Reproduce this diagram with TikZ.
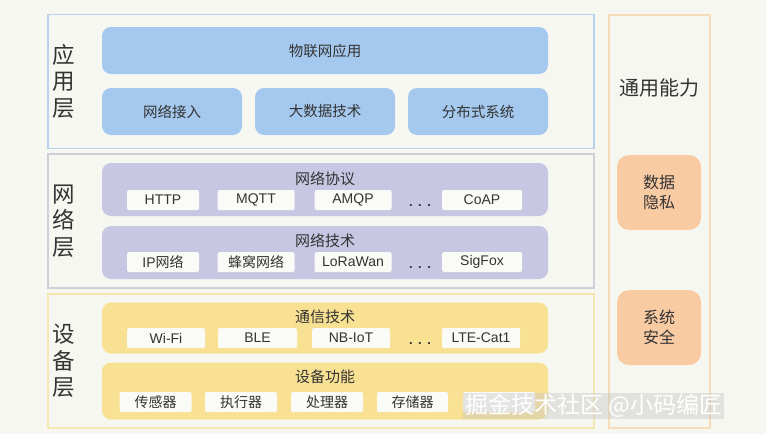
\documentclass[tikz,border=0pt]{standalone}
\usepackage{fontspec}
\setmainfont{Liberation Sans}
\newfontfamily\cjk{Noto Sans CJK SC}
\definecolor{bg}{HTML}{F7F7F2}
\definecolor{txt}{HTML}{333333}
\definecolor{appline}{HTML}{B7D2EC}
\definecolor{appfill}{HTML}{A5C9EE}
\definecolor{netline}{HTML}{CFCFDA}
\definecolor{netfill}{HTML}{C7C7E4}
\definecolor{devline}{HTML}{F6E6B2}
\definecolor{devfill}{HTML}{F9E193}
\definecolor{capline}{HTML}{F6DDB8}
\definecolor{capfill}{HTML}{F9CBA3}
\definecolor{subfill}{HTML}{FAFAF7}
\begin{document}
\begin{tikzpicture}[x=1pt,y=-1pt,
  every node/.style={inner sep=0pt, text=txt},
  layerbox/.style={draw=#1, line width=1.3pt, fill=bg, minimum width=546pt, minimum height=134pt},
  layerlabel/.style={font=\cjk\fontsize{22.5}{26.5}\selectfont, align=center},
  bigbox/.style={fill=#1, rounded corners=9pt, minimum width=446pt},
  midbox/.style={fill=appfill, rounded corners=9pt, minimum width=140pt, minimum height=47pt, font=\cjk\fontsize{14.5}{17}\selectfont},
  boxtitle/.style={font=\cjk\fontsize{15}{18}\selectfont},
  subbox/.style={fill=subfill, rounded corners=1.5pt, minimum height=20pt, minimum width=#1, font=\fontsize{14}{16}\selectfont},
  subbox/.default=77pt,
  dots/.style={font=\bfseries\fontsize{13}{13}\selectfont},
  capbox/.style={fill=capfill, rounded corners=12pt, minimum width=84pt, minimum height=75pt, font=\cjk\fontsize{16}{20}\selectfont, align=center}
]
\useasboundingbox[fill=bg] (0,0) rectangle (766,434);

% ---------- application layer ----------
\node[layerbox=appline] (app) at (321,81.5) {};
\node[layerlabel] (applbl) at (64,81) {应\\用\\层};
\node[bigbox=appfill, minimum height=47pt, font=\cjk\fontsize{14.5}{17}\selectfont] (iot) at (325,50.5) {物联网应用};
\node[midbox] (acc) at (172,111.5) {网络接入};
\node[midbox] (bigdata) at (325,111.5) {大数据技术};
\node[midbox] (dist) at (478,111.5) {分布式系统};

% ---------- network layer ----------
\node[layerbox=netline] (net) at (321,221) {};
\node[layerlabel] (netlbl) at (64,221) {网\\络\\层};
\node[bigbox=netfill, minimum height=53pt] (proto) at (325,189.5) {};
\node[boxtitle] (protot) at (325,179) {网络协议};
\node[subbox=72pt] (http) at (163,200) {HTTP};
\node[subbox] (mqtt) at (256,200) {MQTT};
\node[subbox] (amqp) at (353,200) {AMQP};
\node[dots] (pdots) at (420,206) {.\hspace{5.5pt}.\hspace{5.5pt}.};
\node[subbox=80pt] (coap) at (482,200) {CoAP};

\node[bigbox=netfill, minimum height=53pt] (ntech) at (325,252.5) {};
\node[boxtitle] (ntecht) at (325,241) {网络技术};
\node[subbox=72pt] (ipnet) at (163,262) {IP{\cjk 网络}};
\node[subbox, font=\cjk\fontsize{14}{16}\selectfont] (cell) at (256,262) {蜂窝网络};
\node[subbox] (lora) at (353,262) {LoRaWan};
\node[dots] (ndots) at (420,268) {.\hspace{5.5pt}.\hspace{5.5pt}.};
\node[subbox=80pt] (sigfox) at (482,262) {SigFox};

% ---------- device layer ----------
\node[layerbox=devline] (dev) at (321,361) {};
\node[layerlabel] (devlbl) at (64,361) {设\\备\\层};
\node[bigbox=devfill, minimum height=51pt] (comm) at (325,328) {};
\node[boxtitle] (commt) at (325,317) {通信技术};
\node[subbox=78pt] (wifi) at (166,338) {Wi{-}Fi};
\node[subbox=79pt] (ble) at (257.5,338) {BLE};
\node[subbox=78pt] (nbiot) at (351,338) {NB{-}IoT};
\node[dots] (cdots) at (420,344) {.\hspace{5.5pt}.\hspace{5.5pt}.};
\node[subbox=78pt] (lte) at (481,338) {LTE{-}Cat1};

\node[bigbox=devfill, minimum height=57pt] (func) at (325,391) {};
\node[boxtitle] (funct) at (325,377) {设备功能};
\node[subbox=72pt, font=\cjk\fontsize{14}{16}\selectfont] (sensor) at (155.5,402) {传感器};
\node[subbox=72pt, font=\cjk\fontsize{14}{16}\selectfont] (actor) at (241,402) {执行器};
\node[subbox=72pt, font=\cjk\fontsize{14}{16}\selectfont] (proc) at (327,402) {处理器};
\node[subbox=71pt, font=\cjk\fontsize{14}{16}\selectfont] (store) at (412.5,402) {存储器};
\node[subbox=72pt] (fifth) at (499,402) {};

% ---------- common capability ----------
\node[draw=capline, line width=1.3pt, fill=bg, minimum width=101pt, minimum height=413pt] (cap) at (659.5,221.5) {};
\node[font=\cjk\fontsize{20}{24}\selectfont] (capt) at (659,88) {通用能力};
\node[capbox] (privacy) at (659,192.5) {数据\\隐私};
\node[capbox] (security) at (659,327.5) {系统\\安全};

% ---------- watermark ----------
\node[font=\cjk\fontsize{23}{26}\selectfont, text=white, fill=black!22, fill opacity=0.45, text opacity=1, inner xsep=2pt, inner ysep=1pt, anchor=west] (wm) at (463,406) {掘金技术社区 @小码编匠};
\end{tikzpicture}
\end{document}
